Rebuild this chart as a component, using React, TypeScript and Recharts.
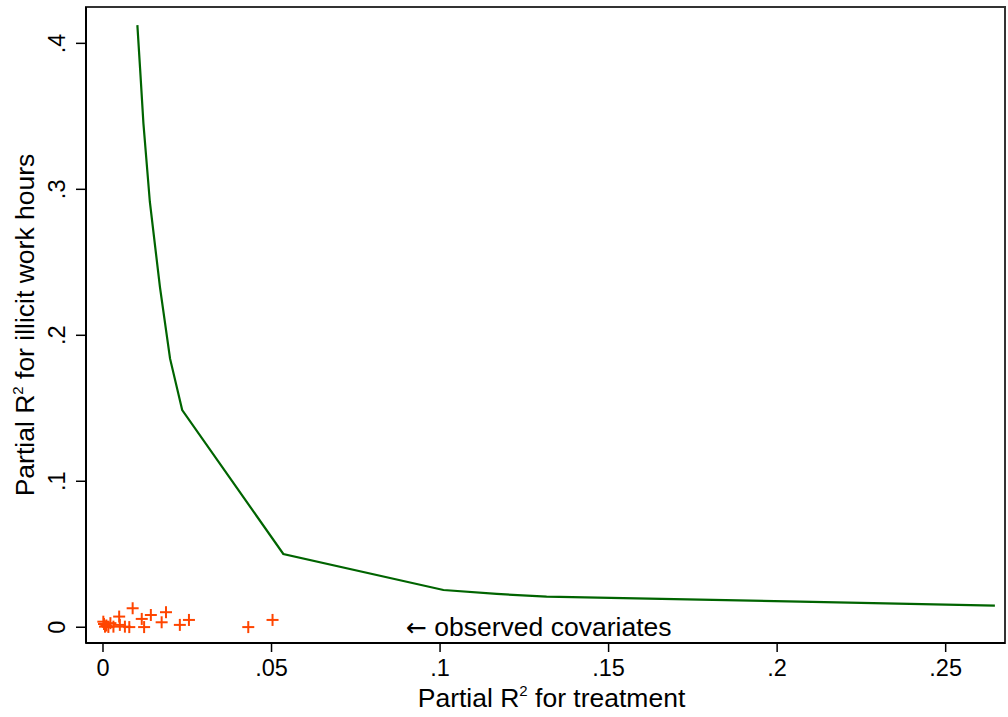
import React from 'react';
import { ComposedChart, Line, Scatter, XAxis, YAxis, ReferenceArea, ReferenceDot } from 'recharts';

// bound curve (partial R2 treatment vs outcome)
const boundX = [0.0102, 0.011, 0.012, 0.0139, 0.0169, 0.0199, 0.0235, 0.0535, 0.101, 0.1168, 0.1316, 0.2068, 0.2646];
const boundY = [0.4125, 0.383, 0.345, 0.2915, 0.233, 0.184, 0.1488, 0.0502, 0.0255, 0.0228, 0.021, 0.0175, 0.0148];

// observed covariates
const covX = [0.0001, 0.0006, 0.0016, 0.0031, 0.0048, 0.005, 0.0065, 0.0078, 0.0088, 0.0115, 0.0122, 0.0142, 0.0174, 0.0187, 0.0228, 0.0255, 0.0431, 0.0503, 0.0003, 0.001, 0.0022];
const covY = [0.0038, 0.0004, 0.0002, 0.0004, 0.0073, 0.0016, 0.0004, 0.0001, 0.013, 0.0057, 0.0001, 0.0084, 0.0034, 0.0103, 0.0016, 0.005, 0.0001, 0.005, 0.0022, 0.0012, 0.0028];

const xTicks = [0, 0.05, 0.1, 0.15, 0.2, 0.25];
const xTickLabels = ['0', '.05', '.1', '.15', '.2', '.25'];
const yTicks = [0, 0.1, 0.2, 0.3, 0.4];
const yTickLabels = ['0', '.1', '.2', '.3', '.4'];

const X_DOMAIN: [number, number] = [-0.00504, 0.2676];
const Y_DOMAIN: [number, number] = [-0.0108, 0.4249];

const FONT = '"Liberation Sans", Arial, sans-serif';

const boundData = boundX.map((x, i) => ({ x, y: boundY[i] }));
const covData = covX.map((x, i) => ({ x, y: covY[i] }));

const Plus = (props: any) => {
  const { cx, cy } = props;
  if (cx == null || cy == null) return null;
  const h = 6;
  return (
    <g stroke="#ff4500" strokeWidth={2}>
      <line x1={cx - h} y1={cy} x2={cx + h} y2={cy} />
      <line x1={cx} y1={cy - h} x2={cx} y2={cy + h} />
    </g>
  );
};

const XTick = (props: any) => {
  const { x, y, payload } = props;
  const i = xTicks.indexOf(payload.value);
  return (
    <text x={x} y={y} dy={24} textAnchor="middle" fontFamily={FONT} fontSize={23.5} fill="#000">
      {xTickLabels[i]}
    </text>
  );
};

const YTick = (props: any) => {
  const { x, y, payload } = props;
  const i = yTicks.indexOf(payload.value);
  const bx = x - 11;
  return (
    <text x={bx} y={y} transform={`rotate(-90, ${bx}, ${y})`} textAnchor="middle" fontFamily={FONT} fontSize={23.5} fill="#000">
      {yTickLabels[i]}
    </text>
  );
};

const XTitle = (props: any) => {
  const vb = props.viewBox || {};
  const cx = vb.x + vb.width / 2 + 6;
  return (
    <text x={cx} y={707} textAnchor="middle" fontFamily={FONT} fontSize={26.5} fill="#000">
      Partial R<tspan fontSize={15} dy={-11}>2</tspan>
      <tspan dy={11}> for treatment</tspan>
    </text>
  );
};

const YTitle = (props: any) => {
  const vb = props.viewBox || {};
  const cy = vb.y + vb.height / 2;
  const bx = 34;
  return (
    <text x={bx} y={cy} transform={`rotate(-90, ${bx}, ${cy})`} textAnchor="middle" fontFamily={FONT} fontSize={26.5} fill="#000">
      Partial R<tspan fontSize={15} dy={-11}>2</tspan>
      <tspan dy={11}> for illicit work hours</tspan>
    </text>
  );
};

const Note = (props: any) => {
  const vb = props.viewBox || {};
  return (
    <text x={vb.x} y={vb.y} dy={9} textAnchor="start" fontFamily={FONT} fontSize={26.5} fill="#000">
      <tspan fontFamily='"DejaVu Sans", sans-serif' fontSize={25}>←</tspan> observed covariates
    </text>
  );
};

export default function App() {
  return (
    <div style={{ position: 'absolute', left: 0, top: 0, background: '#fff' }}>
      <ComposedChart width={1008} height={717} margin={{ top: 7, right: 3, left: 0, bottom: 0 }}>
        <XAxis
          dataKey="x"
          type="number"
          domain={X_DOMAIN}
          ticks={xTicks}
          allowDataOverflow
          height={74}
          tickSize={9}
          tickMargin={0}
          tick={<XTick />}
          axisLine={{ stroke: '#000', strokeWidth: 2 }}
          tickLine={{ stroke: '#000', strokeWidth: 1.5 }}
          label={{ content: <XTitle /> }}
        />
        <YAxis
          dataKey="y"
          type="number"
          domain={Y_DOMAIN}
          ticks={yTicks}
          allowDataOverflow
          width={86}
          tickSize={10}
          tickMargin={0}
          tick={<YTick />}
          axisLine={{ stroke: '#000', strokeWidth: 2 }}
          tickLine={{ stroke: '#000', strokeWidth: 1.5 }}
          label={{ content: <YTitle /> }}
        />
        <ReferenceArea
          x1={X_DOMAIN[0]}
          x2={X_DOMAIN[1]}
          y1={Y_DOMAIN[0]}
          y2={Y_DOMAIN[1]}
          fill="none"
          stroke="#333"
          strokeWidth={2}
          ifOverflow="visible"
        />
        <Scatter data={covData} dataKey="y" shape={<Plus />} isAnimationActive={false} />
        <Line
          data={boundData}
          dataKey="y"
          type="linear"
          stroke="#006400"
          strokeWidth={2.2}
          dot={false}
          activeDot={false}
          isAnimationActive={false}
        />
        <ReferenceDot x={0.0899} y={0} r={0} ifOverflow="visible" label={{ content: <Note /> }} />
      </ComposedChart>
    </div>
  );
}
